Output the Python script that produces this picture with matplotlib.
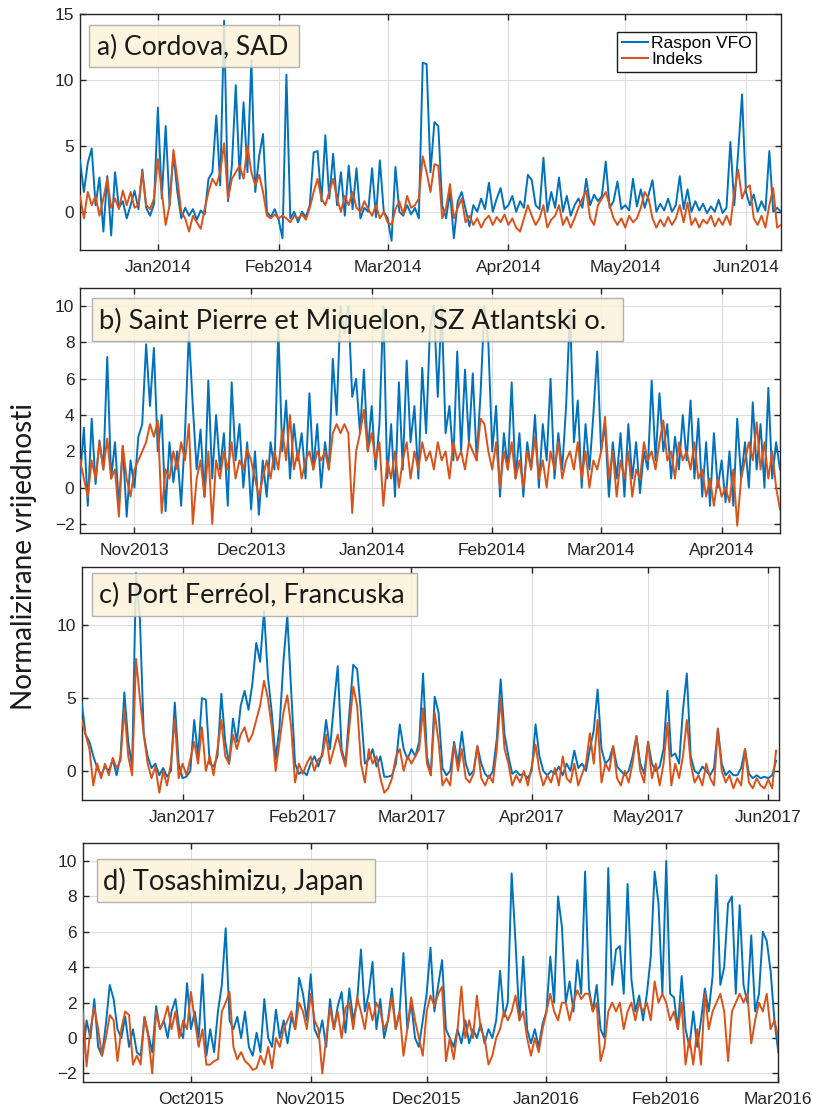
import numpy as np
import pandas as pd
import matplotlib
matplotlib.use("Agg")
import matplotlib.pyplot as plt
import matplotlib.dates as mdates
from matplotlib.patches import Rectangle
from matplotlib.lines import Line2D

plt.rcParams['font.family'] = ['Liberation Sans', 'DejaVu Sans']

# ---------------- data ----------------
series_names = ['Raspon VFO', 'Indeks']
ylabel_text = 'Normalizirane vrijednosti'

a_label = 'a) Cordova, SAD'
a_start = '2013-12-12'
a_vfo = [3.9, 1.5, 3.7, 4.8, 0.5, 2.6, -1.5, 2.7, -1.8, 3.0,
         0.3, 0.8, -0.5, 0.5, 1.6, 0.2, 3.2, 0.3, -0.3, 0.6,
         7.9, 1.0, 6.5, 0.5, 4.4, 1.5, -0.5, 0.3, -0.3, 0.2,
         -0.6, 0.1, -0.2, 2.5, 3.0, 7.3, 2.0, 14.5, 0.8, 3.5,
         9.6, 2.5, 8.3, 3.0, 11.5, 1.5, 4.2, 5.9, 0.0, -0.4,
         0.2, -0.6, -2.0, 10.4, -0.5, 0.0, -0.8, 0.0, -0.4, 0.5,
         4.5, 4.6, 0.8, 5.8, 1.0, 4.4, 0.5, 3.0, -0.3, 3.5,
         0.2, 3.3, -0.5, 0.3, 0.0, 3.3, -0.4, 3.9, 0.0, -0.5,
         -2.2, 3.4, 0.0, -0.3, 0.5, -0.2, 0.3, -0.5, 11.3, 11.2,
         3.0, 6.8, 6.5, 0.5, -0.5, 1.5, -2.0, 0.8, 1.5, 0.2,
         -1.1, 0.5, 0.0, 1.0, 0.2, 2.2, 0.0, 1.0, 1.8, 0.2,
         0.5, 1.2, 0.0, 0.8, 0.3, 2.8, 2.4, 0.5, 0.2, 4.1,
         0.0, 1.5, 0.3, 2.6, 0.0, 1.2, -0.3, 0.5, 1.0, 0.3,
         2.5, 0.5, 1.3, 0.8, 1.2, 3.8, 0.3, 0.8, 2.3, 0.2,
         0.5, 0.1, 2.5, 0.4, 1.7, 0.3, 1.3, 2.4, 0.0, 0.6,
         0.1, 1.0, 0.0, 0.5, 2.7, 0.2, 1.7, 0.0, 0.8, 0.1,
         0.6, -0.1, 0.4, 0.0, 0.9, -0.1, 0.3, 5.3, 0.5, 4.5,
         8.9, 1.5, 0.5, 1.3, 0.0, 0.8, 0.1, 4.6, 0.0, 0.3,
         0.0]
a_idx = [1.2, -0.5, 1.5, 0.5, 1.2, -0.3, 1.0, 2.5, 0.3, 1.0,
         0.2, 1.6, 0.5, 1.5, 0.3, 0.5, 3.0, 0.5, 0.2, 1.0,
         4.0, 1.5, -1.0, 0.5, 4.7, 2.5, 0.0, -0.5, -1.5, -0.3,
         -0.8, -1.3, 0.2, 1.5, 2.5, 2.0, 3.0, 5.2, 1.0, 2.5,
         3.0, 3.5, 2.5, 5.0, 3.0, 2.0, 2.8, 1.5, -0.3, -0.5,
         -0.2, -0.5, -0.3, -0.5, -0.8, -0.3, -0.5, -0.2, -0.6, 0.3,
         1.5, 2.5, 1.0, 0.5, 1.5, 2.5, 1.0, 0.0, 1.2, 0.5,
         1.5, 0.3, 0.0, 0.8, 0.2, -0.3, 0.5, -0.5, 0.0, -0.8,
         -1.0, 0.2, 0.8, -0.2, 1.2, 0.3, 0.5, 1.0, 4.2, 3.0,
         1.5, 3.6, 3.5, -0.5, 0.3, 2.1, -0.5, 0.3, 1.0, -0.8,
         -0.3, -1.0, -0.5, -1.2, -0.6, -0.3, -1.0, -0.4, -0.8, -0.2,
         -1.0, -0.5, -1.2, -1.5, -0.5, 0.5, -0.3, -1.0, -0.5, 0.5,
         -1.2, -0.6, -0.3, 0.5, -1.0, -0.4, -1.2, -0.5, 0.3, 1.0,
         1.6, -0.5, -1.0, 0.5, 1.0, 1.5, 0.5, -0.5, -1.0, -0.5,
         -1.2, -0.3, -0.8, -0.5, 0.3, 1.5, 1.0, -0.5, -1.2, -0.6,
         -1.1, -0.4, -1.0, -0.5, 0.5, -0.8, 0.7, -1.0, -0.5, -1.2,
         -0.6, -0.9, -0.3, -1.1, -0.5, -1.0, -0.3, -1.0, 1.5, 3.2,
         1.0, 1.8, 2.0, -0.5, -1.0, -0.3, -1.2, 0.5, 1.8, -1.2,
         -1.0]

b_label = 'b) Saint Pierre et Miquelon, SZ Atlantski o.'
b_start = '2013-10-18'
b_vfo = [0.5, 3.3, -1.0, 3.8, 0.2, 2.6, 1.0, 7.2, 0.5, 2.5,
         -1.0, 2.3, -1.6, 1.5, 0.0, 2.8, 3.5, 7.9, 4.5, 7.7,
         2.0, 4.0, -1.3, 2.5, 0.3, 2.0, -1.0, 3.0, 8.6, 4.5,
         1.0, 3.2, -0.5, 5.9, 0.5, 4.0, 1.0, 3.0, -1.0, 5.8,
         1.5, 3.5, 0.0, 2.5, -1.2, 2.0, -1.5, 1.5, -0.5, 2.5,
         1.0, 8.8, 2.0, 4.8, 0.5, 3.5, 1.5, 3.0, 0.5, 5.2,
         1.0, 3.5, 0.0, 2.5, 1.0, 7.1, 4.0, 10.0, 8.5, 10.0,
         5.0, 6.0, 3.0, 6.5, 2.0, 4.5, 1.0, 3.5, 10.0, 0.5,
         3.5, -0.5, 5.8, 1.0, 7.0, 2.5, 4.5, 0.5, 6.6, 3.0,
         8.8, 10.0, 5.0, 10.0, 3.0, 4.5, 1.5, 7.5, 2.0, 6.5,
         2.5, 6.3, 1.5, 5.2, 10.0, 8.0, 2.0, 4.5, -0.5, 3.0,
         1.0, 5.8, 0.5, 3.0, -0.5, 2.5, 1.0, 4.0, 0.0, 3.5,
         1.5, 6.0, 0.5, 3.0, 1.0, 4.5, 9.8, 2.5, 4.8, 0.0,
         3.5, 1.0, 4.0, 7.5, 2.0, 3.5, -0.5, 2.5, 0.5, 3.0,
         -0.5, 3.5, 0.5, 2.5, -0.3, 2.0, 1.0, 5.9, 1.5, 5.2,
         2.0, 3.5, 0.5, 2.8, 1.0, 4.0, 1.5, 4.8, 0.5, 3.8,
         -0.5, 2.5, -1.0, 3.0, 0.0, 1.5, -0.8, 2.0, -1.0, 3.8,
         0.5, 2.5, 0.0, 4.7, 1.0, 3.5, 0.0, 5.5, 0.5, 2.5,
         1.0]
b_idx = [1.5, 0.5, -0.5, 1.5, 0.5, 2.5, 1.0, 2.7, 0.5, 1.0,
         -1.6, 2.3, 0.5, -0.5, 1.0, 1.5, 2.0, 2.5, 3.5, 2.8,
         3.7, -1.4, 1.0, 0.5, 2.0, 1.0, 2.5, 1.5, 3.5, -2.0,
         0.5, 1.5, -0.5, 2.0, -2.0, 1.5, 0.5, 2.0, 1.0, 2.5,
         0.5, 1.5, 1.0, 2.1, 1.5, 0.5, -0.5, 0.5, 1.5, 0.5,
         2.0, 1.0, 3.2, 1.5, 4.0, 1.0, 2.0, 0.5, 1.5, 2.0,
         1.0, 2.0, 1.5, 2.0, 1.0, 3.0, 3.5, 3.0, 3.5, 3.0,
         -1.4, 2.0, 3.0, 4.3, 2.0, 3.0, 1.5, 2.5, -1.0, 1.5,
         0.5, 2.0, 0.0, 1.5, 2.5, 0.5, 2.0, 1.0, 2.5, 1.5,
         2.0, 1.0, 2.5, 1.5, 2.0, 0.5, 2.5, 1.5, 2.0, 1.0,
         2.5, 2.0, 1.5, 3.8, 3.5, 2.0, 1.0, 2.5, 0.0, 2.0,
         1.0, 2.5, 0.5, 1.5, 0.0, 2.0, 1.0, 2.8, 0.5, 1.5,
         0.0, 2.0, 1.0, 2.5, 0.5, 1.5, 2.0, 1.0, 2.5, 0.5,
         2.0, 0.0, 1.5, 1.0, 2.0, 3.9, 0.5, 2.0, -0.5, 1.5,
         0.5, 2.0, -0.5, 1.0, 0.5, 2.5, 1.5, 2.0, 1.0, 2.5,
         3.7, 1.5, 2.0, 0.5, 2.5, 1.5, 2.0, 1.0, 2.5, 0.5,
         1.0, -0.5, 0.5, -1.0, 0.5, -0.5, 0.0, -0.8, 1.0, -2.1,
         0.5, 1.5, 2.5, 1.5, 3.6, 1.0, 2.5, 0.5, 2.0, 0.0,
         -1.2]

c_label = 'c) Port Ferréol, Francuska'
c_start = '2016-12-06'
c_vfo = [4.7, 2.5, 2.0, 1.0, 0.2, -0.3, 0.3, 0.0, 0.8, -0.3,
         1.0, 5.4, 2.0, 0.3, 13.6, 10.5, 2.5, 1.0, 0.2, 0.5,
         -0.3, 0.2, -0.4, 0.0, 4.7, 0.5, -0.5, -0.4, 0.0, 3.5,
         1.0, 5.0, 4.9, 0.5, 0.3, 1.0, 5.3, 2.0, 0.5, 3.6,
         2.0, 4.5, 5.5, 4.2, 6.0, 8.8, 7.5, 11.0, 6.5, 4.0,
         0.8, 3.0, 7.5, 10.7, 5.5, 0.5, -0.2, 0.0, -0.3, 0.5,
         1.0, 0.3, 1.2, 3.5, 1.5, 4.5, 7.2, 1.5, 0.5, 4.0,
         7.3, 7.0, 4.0, 0.5, 0.8, 1.5, 0.3, 1.0, -0.4, -0.4,
         -0.3, 0.5, 3.2, 1.5, 0.8, 1.5, 1.0, 2.0, 6.7, 1.0,
         -0.3, 5.1, 4.0, 0.2, -0.3, 0.0, 2.0, 0.5, 2.7, 0.5,
         -0.3, 0.0, 1.7, 0.5, -0.2, -0.5, 0.0, 2.2, 6.3, 2.5,
         1.0, -0.2, 0.0, -0.3, -0.2, -0.5, 0.0, 3.2, 1.0, 0.0,
         -0.3, 0.0, -0.2, 0.3, -0.3, 0.5, 0.0, 1.4, 0.2, 0.5,
         0.0, 1.5, 2.8, 5.6, 1.5, 0.5, 0.8, 1.7, 0.3, 0.0,
         -0.3, 0.0, 1.0, 2.4, 0.5, -0.2, 2.0, 0.5, 0.0, 0.3,
         1.5, 5.5, 1.0, 1.2, 0.5, 4.2, 6.7, 1.0, 0.0, -0.2,
         0.3, 0.0, -0.3, 0.2, 2.9, 0.5, -0.3, 0.0, -0.3, -0.3,
         0.2, 1.5, -0.2, -0.5, -0.3, -0.5, -0.4, -0.5, -0.3, 0.7]
c_idx = [3.5, 2.5, 1.5, -1.0, 0.5, -0.5, 0.5, -0.3, 0.9, 0.2,
         0.7, 4.3, 1.0, -0.3, 7.7, 5.0, 2.5, 0.5, -0.5, 0.3,
         -1.5, 0.0, -1.0, 0.5, 3.6, -0.5, 0.5, -0.3, 0.8, 2.0,
         0.5, 3.0, 0.0, 1.0, -0.3, 1.5, 3.5, 1.0, 0.5, 2.5,
         1.5, 2.5, 3.0, 2.0, 2.5, 3.5, 4.5, 6.2, 5.0, 3.0,
         0.0, 2.0, 4.0, 5.2, 3.0, -0.8, 0.5, -0.2, 0.5, 1.0,
         0.0, 0.8, 1.0, 2.5, 0.5, 1.5, 2.5, 1.2, 0.3, 3.0,
         5.8, 4.5, 0.5, -0.8, 1.5, 0.5, 1.0, -0.5, -1.5, -1.2,
         -0.5, 1.0, 1.5, 0.0, 1.0, 0.5, 1.0, 1.5, 4.3, 0.5,
         -0.3, 4.0, 2.0, -1.0, -0.5, -1.0, 1.8, 0.0, 1.5, -0.5,
         -0.8, -0.2, 1.7, -0.5, -1.0, -0.3, -0.8, 1.5, 5.0, 1.5,
         0.5, -1.0, -0.3, -0.8, 0.0, -1.0, 0.3, 1.8, 0.0, -1.0,
         -0.3, -0.8, 0.2, -1.0, 1.0, -0.5, -0.8, 0.5, -1.0, -0.2,
         0.5, 2.6, 0.5, 3.5, -0.8, 0.5, 0.0, 1.7, -0.5, -1.0,
         0.0, -0.8, 0.5, 2.4, 0.0, -0.8, 2.0, -0.5, 0.5, -1.0,
         0.5, 3.3, -1.0, 0.5, -0.5, 1.0, 3.5, 0.5, -0.8, -0.3,
         -1.0, 0.5, -0.5, -1.0, 2.9, 0.0, -0.8, -0.3, -1.2, -0.5,
         -1.0, 1.5, -0.8, -1.2, -0.5, -1.0, -1.2, -0.6, -1.2, 1.4]

d_label = 'd) Tosashimizu, Japan'
d_start = '2015-09-03'
d_vfo = [-1.2, 1.0, 0.0, 2.2, -0.5, -1.0, 0.8, 3.0, 2.2, 0.5,
         0.0, 1.2, -0.5, 0.5, -0.8, -1.0, 1.2, 0.2, -0.8, 1.8,
         0.5, 1.0, 0.0, 1.5, 2.2, 0.5, 0.0, 3.1, 0.5, 1.5,
         0.0, 3.6, -1.0, 0.5, -0.8, 1.5, 3.0, 6.2, 1.0, 0.5,
         1.2, 0.0, 1.5, -0.5, -1.0, 0.3, -0.8, 2.2, 0.0, -0.5,
         1.6, 0.0, 1.0, -0.3, 1.2, 0.5, 3.4, 2.5, 1.0, 3.6,
         0.5, 0.0, 1.0, -0.5, 2.2, 0.5, 1.8, 2.6, 0.3, 2.8,
         1.0, 2.0, 5.0, 1.5, 2.5, 4.3, 0.5, 2.2, 0.0, 1.0,
         2.8, 0.5, 1.5, 4.8, 0.5, 2.0, 0.0, -0.5, 1.0, 2.5,
         5.1, 1.5, 3.0, 4.4, 0.5, 0.0, -0.5, 0.5, -0.3, 1.0,
         -0.3, 0.5, 0.0, 0.8, -0.3, 0.5, 0.0, 1.0, 3.8, 1.2,
         2.0, 9.3, 5.4, 1.0, 4.6, 0.5, -0.3, 0.5, -0.5, 0.8,
         1.5, 4.6, 2.0, 8.0, 6.3, 2.0, 3.2, 1.5, 4.4, 2.5,
         9.4, 2.8, 1.5, 3.0, 0.5, 0.0, 9.6, 3.0, 5.0, 5.2,
         2.5, 8.7, 3.3, 1.5, 2.4, 1.0, 2.5, 4.6, 9.4, 7.6,
         2.5, 10.0, 2.5, 2.3, 0.5, 3.5, 0.5, -0.5, 1.5, -0.5,
         1.0, 2.8, 1.5, 3.5, 9.2, 3.0, 4.0, 7.6, 8.0, 2.5,
         7.5, 3.0, 2.0, 5.8, 1.5, 2.5, 6.0, 5.5, 3.8, 1.0,
         -0.8]
d_idx = [1.6, -1.6, 0.5, 1.7, 0.5, -1.0, 0.0, 1.3, 1.0, -1.3,
         0.5, 1.5, 1.3, -1.5, -1.0, -1.5, 1.2, 0.0, -2.0, 1.5,
         0.5, 1.0, 1.8, 0.5, 1.5, 0.0, 1.0, 0.5, 2.6, 1.0,
         -0.5, 0.5, -1.5, -1.5, -1.3, -1.2, 1.5, 2.0, 2.6, -0.5,
         -1.2, -0.8, -1.3, -1.5, -1.8, -1.7, -1.0, -1.5, -0.5, -1.7,
         0.0, -0.5, 0.5, 1.0, 1.5, 0.5, 2.0, 1.5, 0.5, 2.5,
         1.0, 0.5, -2.0, 0.0, 1.7, 0.5, 1.5, 0.0, 1.7, 2.0,
         0.5, 2.3, 1.5, 0.5, 2.0, 1.0, 2.0, 1.5, 0.5, 1.0,
         2.3, 0.5, 1.5, -1.0, 0.5, 2.3, 1.0, 0.0, -1.0, 1.5,
         2.4, 1.8, 2.5, 2.9, -1.3, 0.0, -1.2, 0.5, 2.9, 0.0,
         1.0, 0.0, 2.4, 0.5, 0.0, -1.5, -1.0, 0.0, 0.5, 1.5,
         1.0, 1.5, 2.4, 1.0, 1.5, 0.0, -1.0, 0.0, -0.8, 0.5,
         1.5, 2.5, 1.5, 1.0, 2.0, 2.0, 1.0, 2.0, 2.7, 2.2,
         2.5, 2.5, 1.5, 2.0, -1.3, -0.5, 1.5, 2.0, 1.5, 2.0,
         0.5, 1.5, 2.0, 1.0, 2.0, 1.5, 2.0, 1.0, 3.2, 2.0,
         2.5, 2.0, 1.0, 1.5, 0.5, 2.0, -1.5, 0.0, -1.5, 0.5,
         -1.5, 2.5, 0.5, 1.5, 2.0, 2.5, 1.5, -1.3, 1.5, 2.0,
         2.5, 2.0, 2.5, -0.3, 1.0, 2.0, 1.5, 2.5, 0.5, 1.0,
         0.0]

# ---------------- layout / style ----------------
W, H = 813, 1109
BLUE = '#0072BD'
ORANGE = '#D95319'
DARK = '#262626'

fig = plt.figure(figsize=(W / 100, H / 100), dpi=100)
fig.patch.set_facecolor('white')


def fig_rect(l, t, r, b):
    return [l / W, 1 - b / H, (r - l) / W, (b - t) / H]


panels = [
    dict(box=(80, 14, 781, 250), start=a_start, vfo=a_vfo, idx=a_idx,
         ylim=(-2.9, 15), yticks=[0, 5, 10, 15], xend=None,
         label=a_label, lbox=(89, 25, 299, 67), ltext=(96.7, 191)),
    dict(box=(80, 288, 780, 533), start=b_start, vfo=b_vfo, idx=b_idx,
         ylim=(-2.5, 11), yticks=[-2, 0, 2, 4, 6, 8, 10], xend=None,
         label=b_label, lbox=(91.7, 298, 622.7, 341), ltext=(99, 509)),
    dict(box=(81.7, 567.3, 779.3, 800), start=c_start, vfo=c_vfo, idx=c_idx,
         ylim=(-2, 14), yticks=[0, 5, 10], xend='2017-06-03 20:00',
         label=c_label, lbox=(91.7, 573, 416.7, 615.7), ltext=(99, 306)),
    dict(box=(82.7, 843.3, 778.3, 1082.3), start=d_start, vfo=d_vfo, idx=d_idx,
         ylim=(-2.5, 11), yticks=[-2, 0, 2, 4, 6, 8, 10], xend=None,
         label=d_label, lbox=(96.7, 859, 375, 901.7), ltext=(103, 261)),
]

fit_list = []
axes = []
for p in panels:
    ax = fig.add_axes(fig_rect(*p['box']))
    axes.append(ax)
    dates = pd.date_range(p['start'], periods=len(p['vfo']), freq='D')
    ax.plot(dates, p['vfo'], color=BLUE, lw=1.4, zorder=3)
    ax.plot(dates, p['idx'], color=ORANGE, lw=1.4, zorder=4)
    xend = pd.Timestamp(p['xend']) if p['xend'] else dates[-1]
    ax.set_xlim(dates[0], xend)
    ax.set_ylim(*p['ylim'])
    ax.set_yticks(p['yticks'])
    ax.xaxis.set_major_locator(mdates.MonthLocator())
    ax.xaxis.set_major_formatter(mdates.DateFormatter('%b%Y'))
    ax.grid(True, color='#DCDCDC', lw=0.8)
    ax.set_axisbelow(True)
    ax.tick_params(direction='in', length=4, width=1, top=True, right=True,
                   labelsize=12.5, colors=DARK, pad=4)
    ax.tick_params(axis='x', pad=7)
    for s in ax.spines.values():
        s.set_color(DARK)
        s.set_linewidth(1.0)

    # label box
    l, t, r, b = p['lbox']
    rect = Rectangle((l / W, 1 - b / H), (r - l) / W, (b - t) / H,
                     transform=fig.transFigure, facecolor='#FDF3DA',
                     edgecolor='#A6A6A6', lw=1.0, alpha=0.85, zorder=10)
    fig.add_artist(rect)
    tx, tw = p['ltext']
    txt = fig.text(tx / W, 1 - ((t + b) / 2 + 1) / H, p['label'],
                   family=['Lato', 'DejaVu Sans'], fontsize=17,
                   color='#1a1a1a', ha='left', va='center', zorder=11)
    fit_list.append((txt, tw, 'w'))

# legend in panel a
handles = [Line2D([], [], color=BLUE, lw=1.5), Line2D([], [], color=ORANGE, lw=1.5)]
leg = axes[0].legend(handles, series_names, loc='upper right',
                     bbox_to_anchor=((756 - 80) / 701, 1 - (31.7 - 14) / 236),
                     borderaxespad=0, frameon=True, fancybox=False,
                     edgecolor='#1a1a1a', framealpha=1, borderpad=0.25,
                     handlelength=1.5, handletextpad=0.2, labelspacing=0.05,
                     prop={'family': ['Liberation Sans'], 'size': 12.5})
leg.get_frame().set_linewidth(1.0)
leg.set_zorder(20)

# y label
ylab = fig.text(24 / W, 1 - 556 / H, ylabel_text, rotation=90,
                family=['Lato', 'DejaVu Sans'], fontsize=16, color='#1a1a1a',
                ha='center', va='center')
fit_list.append((ylab, 308, 'h'))

# fit text sizes to measured widths
fig.canvas.draw()
renderer = fig.canvas.get_renderer()
for t_, target, dim in fit_list:
    ext = t_.get_window_extent(renderer)
    cur = ext.width if dim == 'w' else ext.height
    t_.set_fontsize(t_.get_fontsize() * target / cur)

fig.savefig('out.png', dpi=100)
